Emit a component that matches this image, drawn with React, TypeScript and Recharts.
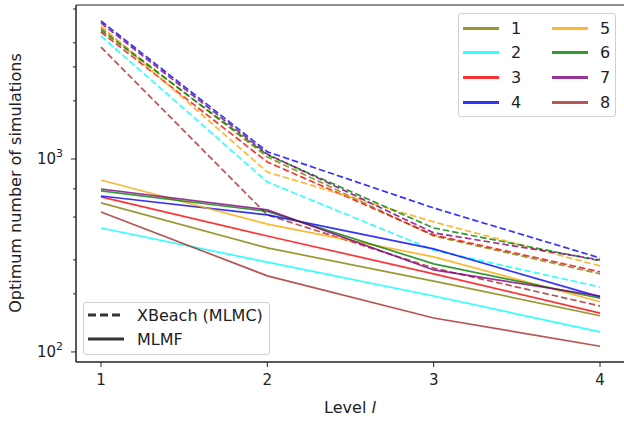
import { LineChart, Line, XAxis, YAxis, ReferenceArea } from 'recharts';

const levels = [1, 2, 3, 4];
const seriesNames = ['1', '2', '3', '4', '5', '6', '7', '8'];
const colors = ['#808000', '#00ffff', '#ff0000', '#0000ff', '#ffa500', '#008000', '#800080', '#a52a2a'];

// XBeach (MLMC), dashed
const mlmc1 = [4770, 1025, 399, 254];
const mlmc2 = [4340, 760, 337, 217];
const mlmc3 = [4550, 965, 404, 260];
const mlmc4 = [5190, 1090, 557, 307];
const mlmc5 = [4890, 855, 472, 279];
const mlmc6 = [4660, 1050, 439, 297];
const mlmc7 = [5070, 1060, 414, 300];
const mlmc8 = [3800, 513, 272, 173];

// MLMF, solid
const mlmf1 = [592, 346, 233, 154];
const mlmf2 = [439, 292, 195, 127];
const mlmf3 = [636, 399, 254, 159];
const mlmf4 = [643, 513, 342, 193];
const mlmf5 = [778, 460, 311, 182];
const mlmf6 = [683, 535, 286, 190];
const mlmf7 = [699, 545, 266, 195];
const mlmf8 = [531, 248, 150, 107];

const mlmc = [mlmc1, mlmc2, mlmc3, mlmc4, mlmc5, mlmc6, mlmc7, mlmc8];
const mlmf = [mlmf1, mlmf2, mlmf3, mlmf4, mlmf5, mlmf6, mlmf7, mlmf8];

const xTicks = [1, 2, 3, 4];
const yTicks = [100, 200, 300, 400, 500, 600, 700, 800, 900, 1000, 2000, 3000, 4000, 5000, 6000];
const yMajor: Record<number, string> = { 100: '2', 1000: '3' };

const data = levels.map((lvl, i) => {
  const row: Record<string, number> = { level: lvl };
  seriesNames.forEach((_, s) => {
    row[`mlmc${s}`] = mlmc[s][i];
    row[`mlmf${s}`] = mlmf[s][i];
  });
  return row;
});

const FONT = '"DejaVu Sans", sans-serif';

function YTick(props: any) {
  const { x, y, payload } = props;
  const exp = yMajor[payload.value];
  return (
    <g>
      <line x1={x} x2={x - (exp ? 5 : 3)} y1={y} y2={y} stroke="#222" strokeWidth={1} />
      {exp && (
        <text x={x - 13} y={y + 5} textAnchor="end" fontSize={15} fill="#222" fontFamily={FONT}>
          10<tspan dy={-7} fontSize={11}>{exp}</tspan>
        </text>
      )}
    </g>
  );
}

export default function App() {
  return (
    <div
      style={{
        position: 'absolute',
        left: 0,
        top: 0,
        width: 624,
        height: 421,
        overflow: 'hidden',
        background: '#fff',
        fontFamily: FONT,
        color: '#222',
      }}
    >
      <LineChart width={640} height={421} data={data} margin={{ top: 5, right: 15, bottom: 0, left: 0 }}>
        <XAxis
          dataKey="level"
          type="number"
          domain={[0.85, 4.15]}
          ticks={xTicks}
          allowDataOverflow
          height={59}
          tickSize={5}
          tickMargin={7}
          stroke="#222"
          tick={{ fontSize: 15, fill: '#222', fontFamily: FONT }}
        />
        <YAxis
          type="number"
          scale="log"
          domain={[88.7, 6280]}
          ticks={yTicks}
          allowDataOverflow
          width={76}
          tickSize={0}
          tickMargin={0}
          stroke="#222"
          tick={<YTick />}
        />
        <ReferenceArea x1={0.85} x2={4.15} y1={88.7} y2={6280} fill="none" stroke="#222" strokeWidth={1} />
        {seriesNames.map((n, s) => (
          <Line
            key={`mlmc${s}`}
            dataKey={`mlmc${s}`}
            type="linear"
            stroke={colors[s]}
            strokeOpacity={0.8}
            strokeWidth={1.7}
            strokeDasharray="6.5 3"
            dot={false}
            isAnimationActive={false}
          />
        ))}
        {seriesNames.map((n, s) => (
          <Line
            key={`mlmf${s}`}
            dataKey={`mlmf${s}`}
            type="linear"
            stroke={colors[s]}
            strokeOpacity={0.8}
            strokeWidth={1.7}
            dot={false}
            isAnimationActive={false}
          />
        ))}
      </LineChart>

      {/* y label */}
      <div
        style={{
          position: 'absolute',
          left: 15,
          top: 183,
          transform: 'translate(-50%, -50%) rotate(-90deg)',
          whiteSpace: 'nowrap',
          fontSize: 16,
        }}
      >
        Optimum number of simulations
      </div>
      {/* x label */}
      <div
        style={{
          position: 'absolute',
          left: 350,
          top: 407,
          transform: 'translate(-50%, -50%)',
          whiteSpace: 'nowrap',
          fontSize: 16,
        }}
      >
        Level <span style={{ fontStyle: 'italic' }}>l</span>
      </div>

      {/* series legend */}
      <div
        style={{
          position: 'absolute',
          left: 458,
          top: 13,
          width: 158,
          height: 104,
          boxSizing: 'border-box',
          border: '1px solid #d0d0d0',
          borderRadius: 3,
          background: 'rgba(255,255,255,0.8)',
        }}
      >
        {seriesNames.map((n, s) => {
          const col = Math.floor(s / 4);
          const row = s % 4;
          return (
            <div
              key={n}
              style={{
                position: 'absolute',
                left: 4 + col * 89,
                top: 14 + row * 24.7 - 12,
                height: 24,
                display: 'flex',
                alignItems: 'center',
              }}
            >
              <div style={{ width: 36, height: 3, background: colors[s], opacity: 0.8 }} />
              <span style={{ marginLeft: 12, fontSize: 16 }}>{n}</span>
            </div>
          );
        })}
      </div>

      {/* style legend */}
      <div
        style={{
          position: 'absolute',
          left: 83,
          top: 302,
          width: 187,
          height: 53,
          boxSizing: 'border-box',
          border: '1px solid #d0d0d0',
          borderRadius: 3,
          background: 'rgba(255,255,255,0.8)',
        }}
      >
        {['XBeach (MLMC)', 'MLMF'].map((label, i) => (
          <div
            key={label}
            style={{
              position: 'absolute',
              left: 4,
              top: 12 + i * 24 - 12,
              height: 24,
              display: 'flex',
              alignItems: 'center',
            }}
          >
            <svg width={36} height={4}>
              <line
                x1={0}
                x2={36}
                y1={2}
                y2={2}
                stroke="#333"
                strokeWidth={3}
                strokeDasharray={i === 0 ? '8 4' : undefined}
              />
            </svg>
            <span style={{ marginLeft: 13, fontSize: 16 }}>{label}</span>
          </div>
        ))}
      </div>
    </div>
  );
}
